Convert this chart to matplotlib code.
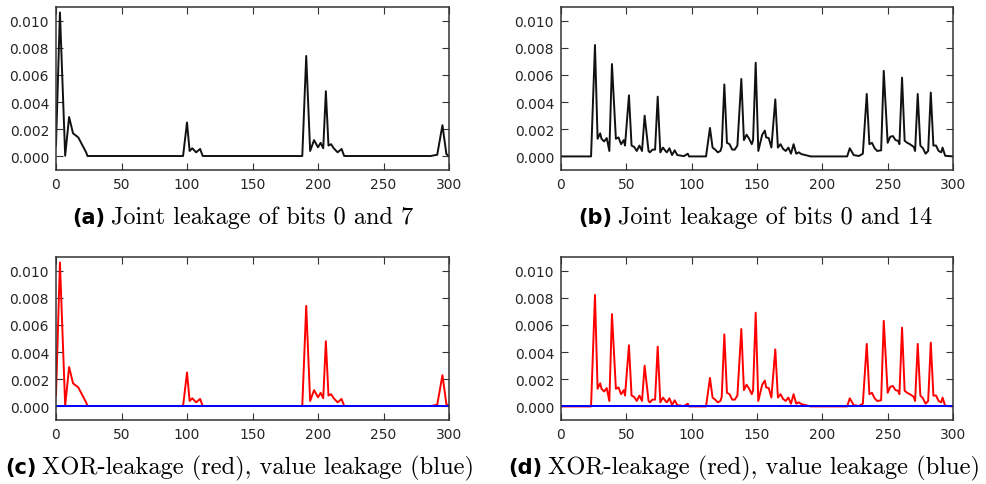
import numpy as np
import matplotlib
matplotlib.use("Agg")
import matplotlib.pyplot as plt
from matplotlib.ticker import FormatStrFormatter

# Leakage trace for bits 0 and 7 (vertices)
x_07 = [0, 3, 7, 10, 13, 17, 23, 24, 60, 97, 100, 102, 104, 107, 110, 112,
        150, 188, 191, 194, 197, 200, 202, 204, 206, 208, 210, 212, 215, 218,
        220, 250, 286, 291, 295, 298, 300]
y_07 = [0.0008, 0.0106, 0.00005, 0.0029, 0.0017, 0.0014, 0.0003, 0.00003,
        0.00003, 0.00003, 0.0025, 0.0004, 0.0006, 0.0003, 0.00055, 0.00003,
        0.00003, 0.00003, 0.0074, 0.0004, 0.0012, 0.00067, 0.001, 0.0006,
        0.0048, 0.0008, 0.0009, 0.0006, 0.0003, 0.00055, 0.00003, 0.00003,
        0.00003, 0.00012, 0.0023, 0.00017, 0.00003]

# Leakage trace for bits 0 and 14
x_014 = [0, 23, 26, 28, 30, 31, 33, 35, 37, 39, 42, 44, 46, 48, 49, 52, 54,
         56, 58, 60, 62, 64, 67, 68, 70, 72, 74, 76, 78, 80, 81, 83, 85, 87,
         89, 91, 94, 97, 98, 111, 114, 116, 118, 120, 122, 123, 125, 127, 129,
         131, 133, 135, 138, 140, 142, 144, 146, 147, 149, 151, 154, 156, 157,
         159, 161, 164, 166, 168, 170, 172, 174, 176, 178, 180, 182, 184, 187,
         191, 219, 221, 224, 228, 231, 234, 236, 238, 240, 242, 245, 247, 250,
         252, 254, 256, 258, 259, 261, 263, 265, 267, 270, 271, 273, 275, 277,
         279, 281, 283, 285, 287, 289, 291, 292, 294, 300]
y_014 = [0.0, 0.0, 0.0082, 0.0013, 0.0017, 0.0013, 0.0011, 0.00135, 0.0004,
         0.0068, 0.0013, 0.0014, 0.0009, 0.0012, 0.0008, 0.0045, 0.0008,
         0.0007, 0.0004, 0.0008, 0.0004, 0.0030, 0.0004, 0.0003, 0.0005,
         0.0005, 0.0044, 0.0003, 0.00065, 0.0004, 0.0003, 0.0006, 0.0001,
         0.00045, 0.0001, 0.00007, 0.00002, 0.0002, 0.0, 0.0, 0.0021, 0.00065,
         0.0005, 0.0003, 0.0004, 0.0007, 0.0053, 0.001, 0.0009, 0.0005, 0.0005,
         0.0008, 0.0057, 0.0012, 0.0016, 0.0013, 0.0009, 0.0012, 0.0069,
         0.0004, 0.0016, 0.0019, 0.0014, 0.00135, 0.00065, 0.0042, 0.00065,
         0.0009, 0.00055, 0.0004, 0.00065, 0.0002, 0.0009, 0.0002, 0.0003,
         0.00017, 0.0001, 0.0, 0.0, 0.0006, 0.0001, 0.00003, 0.0002, 0.0046,
         0.0009, 0.001, 0.0006, 0.0004, 0.00045, 0.0063, 0.001, 0.00145,
         0.0015, 0.0012, 0.00115, 0.0009, 0.0058, 0.00115, 0.001, 0.0009,
         0.0007, 0.0004, 0.0046, 0.0008, 0.0006, 0.0002, 0.0004, 0.0047,
         0.0008, 0.0008, 0.0004, 0.0003, 0.00065, 0.00005, 0.0]

# Value leakage is flat at (almost) zero
x_val = [0, 300]
y_val = [0.00004, 0.00004]

xticks = [0, 50, 100, 150, 200, 250, 300]
yticks = [0.000, 0.002, 0.004, 0.006, 0.008, 0.010]

captions = [("(a)", "Joint leakage of bits 0 and 7"),
            ("(b)", "Joint leakage of bits 0 and 14"),
            ("(c)", "XOR-leakage (red), value leakage (blue)"),
            ("(d)", "XOR-leakage (red), value leakage (blue)")]

W, H = 987, 485
fig = plt.figure(figsize=(W / 100, H / 100), dpi=100)


def px_axes(left, top, right, bottom):
    # axes placed by pixel box of the reference image
    return fig.add_axes([left / W, 1 - bottom / H, (right - left) / W,
                         (bottom - top) / H])


def style(ax):
    ax.set_xlim(0, 300)
    ax.set_ylim(-0.001, 0.011)
    ax.set_xticks(xticks)
    ax.set_yticks(yticks)
    ax.yaxis.set_major_formatter(FormatStrFormatter("%.3f"))
    ax.tick_params(direction="in", length=5, width=0.8, top=True, right=True,
                   labelsize=10, labelcolor="#262626", pad=5, color="#333333")
    for s in ax.spines.values():
        s.set_linewidth(1.1)
        s.set_color("#333333")


ax_a = px_axes(56, 8, 449, 171)
ax_b = px_axes(561, 8, 953, 171)
ax_c = px_axes(56, 258, 449, 421)
ax_d = px_axes(561, 258, 953, 421)

ax_a.plot(x_07, y_07, color="#111111", lw=1.4)
ax_b.plot(x_014, y_014, color="#111111", lw=1.4)
ax_c.plot(x_07, y_07, color="red", lw=1.4)
ax_c.plot(x_val, y_val, color="blue", lw=1.4)
ax_d.plot(x_014, y_014, color="red", lw=1.4)
ax_d.plot(x_val, y_val, color="blue", lw=1.4)

for ax in (ax_a, ax_b, ax_c, ax_d):
    style(ax)

# captions: bold sans tag, then serif text on the same baseline
cap_pos = [(72, 224, 17.5), (578, 224, 17.5), (5, 474, 17.6), (508, 474, 17.6)]
renderer = fig.canvas.get_renderer()
for (tag, txt), (x0, yb, fs) in zip(captions, cap_pos):
    t1 = fig.text(x0 / W, 1 - yb / H, tag, fontsize=fs - 2.5,
                  fontweight="bold", family="DejaVu Sans", va="baseline")
    bb = t1.get_window_extent(renderer)
    fig.text((bb.x1 + 6) / W, 1 - yb / H, txt, fontsize=fs,
             family="cmr10", va="baseline")

fig.savefig("out.png", dpi=100)
